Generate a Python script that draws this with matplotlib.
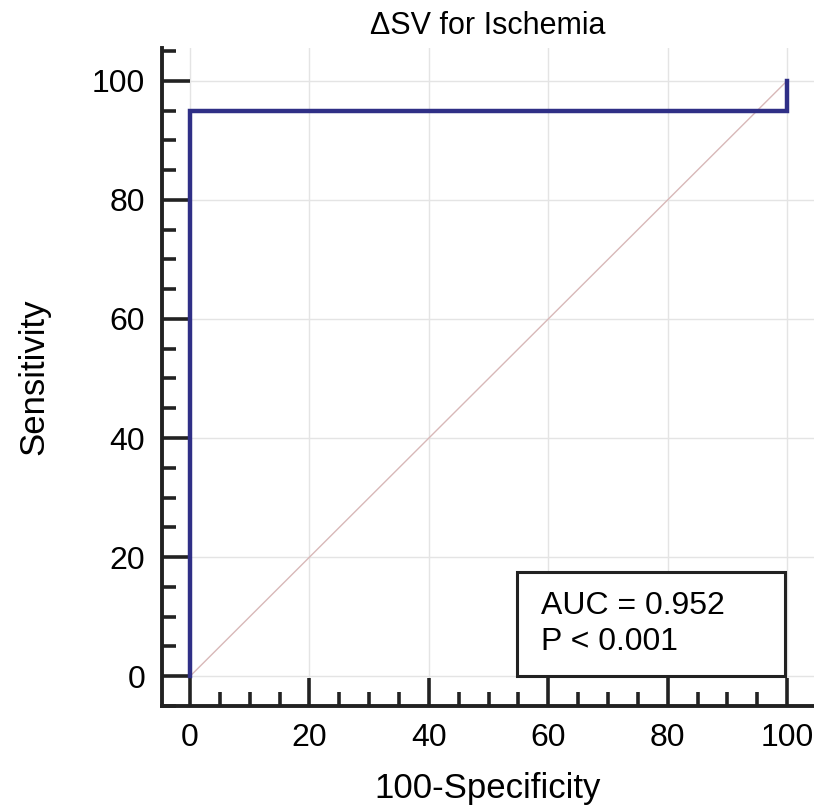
import matplotlib.pyplot as plt
from matplotlib.patches import Rectangle
from matplotlib.ticker import MultipleLocator

plt.rcParams['font.family'] = ['Liberation Sans', 'DejaVu Sans']

# ROC curve points (100-specificity, sensitivity)
fpr = [0, 0, 100, 100]
tpr = [0, 95, 95, 100]
ref_x = [0, 100]
ref_y = [0, 100]
auc = 0.952
p_text = "P < 0.001"

fig = plt.figure(figsize=(8.14, 8.11), dpi=100)
ax = fig.add_axes([162 / 814, 105 / 811, 652 / 814, 658 / 811])

ax.plot(ref_x, ref_y, color="#d8b8b8", lw=1.0, zorder=2)
ax.plot(fpr, tpr, color="#2f2f86", lw=3.2, zorder=3, solid_joinstyle="miter")

ax.set_xlim(-4.7, 104.5)
ax.set_ylim(-5.0, 105.5)

ax.xaxis.set_major_locator(MultipleLocator(20))
ax.xaxis.set_minor_locator(MultipleLocator(5))
ax.yaxis.set_major_locator(MultipleLocator(20))
ax.yaxis.set_minor_locator(MultipleLocator(5))
ax.set_xticks(range(0, 101, 20))
ax.set_yticks(range(0, 101, 20))

ax.grid(True, which="major", color="#e4e4e4", lw=1.0, zorder=0)

for s in ["top", "right"]:
    ax.spines[s].set_visible(False)
for s in ["left", "bottom"]:
    ax.spines[s].set_linewidth(2.8)
    ax.spines[s].set_color("#222222")

ax.tick_params(which="major", direction="in", length=20, width=2.6, color="#222222",
               labelsize=23, pad=12)
ax.tick_params(which="minor", direction="in", length=10, width=2.6, color="#222222")

ax.set_xlabel("100-Specificity", fontsize=25, labelpad=14)
ax.set_ylabel("Sensitivity", fontsize=25, labelpad=30)
ax.set_title("ΔSV for Ischemia", fontsize=22, pad=10)

# AUC box
ax.add_patch(Rectangle((54.8, 0), 44.9, 17.5, fill=True, fc="white", ec="#222222",
                       lw=2.2, zorder=5))
ax.text(58.8, 8.8, f"AUC = {auc}\n{p_text}", fontsize=23, va="center", ha="left",
        linespacing=1.28, zorder=6)

fig.savefig("out.png", dpi=100)
